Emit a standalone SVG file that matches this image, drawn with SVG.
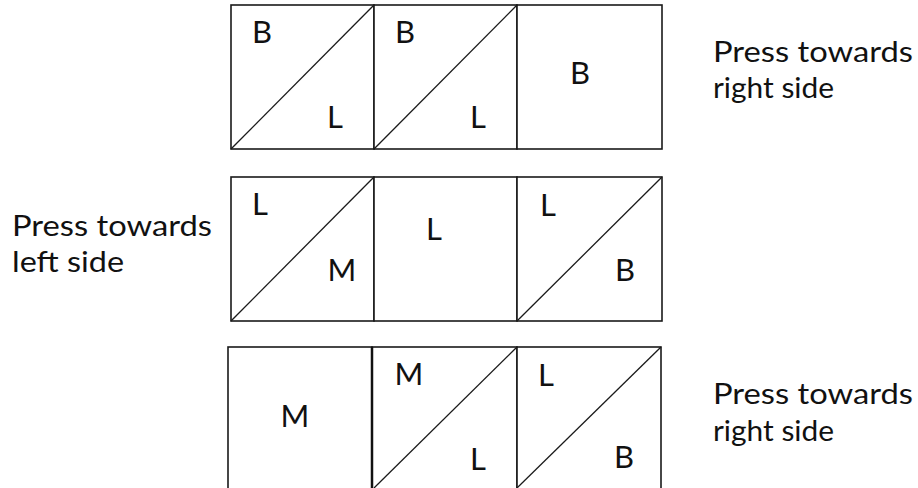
<svg xmlns="http://www.w3.org/2000/svg" width="918" height="488" viewBox="0 0 918 488">
<style>
.sq{fill:#fff;stroke:#1a1a1a;stroke-width:1.6}
.dg{stroke:#1a1a1a;stroke-width:1.3;fill:none}
.lt{font-family:Lato,"Open Sans","Liberation Sans",sans-serif;font-size:31px;fill:#111;text-anchor:middle}
.lb{font-family:Lato,"Open Sans","Liberation Sans",sans-serif;font-size:29px;fill:#111}
</style>
<rect width="918" height="488" fill="#fff"/>
<g id="r1s1"><rect class="sq" x="231" y="5" width="143" height="144"/><text class="lt" x="262" y="43">B</text><text class="lt" x="335" y="128">L</text></g>
<g id="r1s2"><rect class="sq" x="374" y="5" width="143" height="144"/><text class="lt" x="405" y="43">B</text><text class="lt" x="478" y="128">L</text></g>
<g id="r1s3"><rect class="sq" x="517" y="5" width="145" height="144"/><text class="lt" x="580" y="84">B</text></g>
<g id="r2s1"><rect class="sq" x="231" y="177" width="143" height="144"/><text class="lt" x="260" y="215">L</text><text class="lt" x="342" y="281">M</text></g>
<g id="r2s2"><rect class="sq" x="374" y="177" width="143" height="144"/><text class="lt" x="434" y="240">L</text></g>
<g id="r2s3"><rect class="sq" x="517" y="177" width="145" height="144"/><text class="lt" x="548" y="216">L</text><text class="lt" x="625" y="281">B</text></g>
<g id="r3s1"><rect class="sq" x="228" y="347" width="144" height="145"/><text class="lt" x="295" y="427">M</text></g>
<g id="r3s2"><rect class="sq" x="372" y="347" width="145" height="145"/><line x1="372" y1="347" x2="372" y2="490" stroke="#111" stroke-width="2.5"/><text class="lt" x="409" y="385">M</text><text class="lt" x="478" y="470">L</text></g>
<g id="r3s3"><rect class="sq" x="517" y="347" width="144" height="145"/><text class="lt" x="546" y="386">L</text><text class="lt" x="624" y="468">B</text></g>
<g id="connectors">
<line class="dg" x1="231" y1="149" x2="374" y2="5"/>
<line class="dg" x1="374" y1="149" x2="517" y2="5"/>
<line class="dg" x1="231" y1="321" x2="374" y2="177"/>
<line class="dg" x1="517" y1="321" x2="662" y2="177"/>
<line class="dg" x1="374" y1="488" x2="517" y2="347"/>
<line class="dg" x1="517" y1="488" x2="661" y2="347"/>
</g>
<g id="label-top"><text class="lb" x="713" y="62" textLength="200" lengthAdjust="spacingAndGlyphs">Press towards</text><text class="lb" x="713" y="98" textLength="121" lengthAdjust="spacingAndGlyphs">right side</text></g>
<g id="label-left"><text class="lb" x="12" y="236" textLength="200" lengthAdjust="spacingAndGlyphs">Press towards</text><text class="lb" x="12" y="272" textLength="112" lengthAdjust="spacingAndGlyphs">left side</text></g>
<g id="label-bottom"><text class="lb" x="713" y="404" textLength="200" lengthAdjust="spacingAndGlyphs">Press towards</text><text class="lb" x="713" y="441" textLength="121" lengthAdjust="spacingAndGlyphs">right side</text></g>
</svg>
